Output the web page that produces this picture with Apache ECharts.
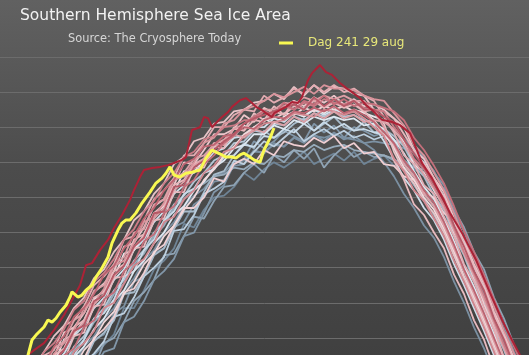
<!DOCTYPE html>
<html><head><meta charset="utf-8">
<script src="https://cdn.jsdelivr.net/npm/echarts@6/dist/echarts.min.js"></script>
<style>html,body{margin:0;padding:0;background:#404040;overflow:hidden}#c{width:529px;height:373px}</style>
</head><body><div id="c"></div>
<script>
// Day of year for the background years (sampled every 5 days)
const days = [121,126,131,136,141,146,151,156,161,166,171,176,181,186,191,196,201,206,211,216,221,226,231,236,241,246,251,256,261,266,271,276,281,286,291,296,301,306,311,316,321,326,331,336,341,346,351,356,361,366];

// Sea ice area (million km²), earlier years
const y01 = [3.0,3.5,3.7,4.35,4.5,5.0,5.5,5.8,6.1,6.85,6.85,7.35,7.95,8.2,8.55,9.25,9.15,9.65,10.0,10.05,10.3,10.7,10.5,10.8,11.0,10.85,11.05,11.3,10.95,11.1,11.25,11.05,11.3,10.95,11.1,11.2,10.9,11.05,10.8,10.65,10.2,9.85,9.1,8.5,7.85,7.25,6.45,5.9,5.1,4.5];
const y02 = [3.7,4.15,4.45,4.95,5.25,5.75,6.05,6.55,6.85,7.35,7.7,8.2,8.5,9.0,9.3,9.75,10.05,10.25,10.6,10.7,11.0,11.05,11.3,11.3,11.5,11.45,11.7,11.6,11.75,11.7,11.8,11.7,11.65,11.55,11.35,11.0,10.6,10.1,9.7,9.2,8.85,8.3,7.6,7.0,6.3,5.7,5.0,4.3,3.65,3.0];
const y03 = [2.7,3.2,3.4,4.05,4.2,4.6,5.15,5.6,5.7,6.45,6.6,7.05,7.65,7.9,8.25,8.9,9.0,9.55,10.15,10.35,10.95,11.1,11.6,11.4,11.6,11.9,11.75,11.6,12.1,11.85,12.05,11.7,12.0,11.9,11.75,11.85,11.6,11.65,11.4,11.15,10.7,10.35,9.6,9.05,8.25,7.75,6.95,6.35,5.6,5.0];
const y04 = [4.0,4.35,4.85,5.15,5.65,5.95,6.45,6.75,7.25,7.55,8.1,8.4,8.9,9.2,9.7,9.95,10.25,10.4,10.6,10.65,10.85,10.8,11.0,10.95,11.2,11.15,11.35,11.3,11.5,11.35,11.45,11.5,11.35,11.3,11.25,11.2,11.1,10.8,10.35,9.95,9.5,9.0,8.35,7.7,7.05,6.4,5.7,5.0,4.35,3.7];
const y05 = [3.4,3.9,4.05,4.75,4.9,5.3,5.9,6.15,6.5,7.25,7.3,7.75,8.35,8.55,9.1,9.6,9.6,10.15,10.65,10.75,11.2,11.55,11.4,11.9,11.7,11.85,12.1,12.25,11.9,12.1,12.3,12.0,11.9,12.15,11.85,11.95,11.75,11.45,10.9,10.6,10.05,9.65,8.9,8.35,7.6,7.05,6.25,5.65,4.9,4.3];
const y06 = [4.1,4.45,4.95,5.25,5.75,6.05,6.55,6.85,7.35,7.65,8.2,8.5,9.0,9.3,9.8,10.05,10.45,10.7,11.05,11.2,11.55,11.6,11.9,11.85,12.1,12.05,12.3,12.2,12.4,12.3,12.45,12.3,12.35,12.2,12.15,11.85,11.6,11.05,10.7,10.2,9.85,9.3,8.6,8.0,7.35,6.7,6.0,5.3,4.65,4.0];
const y07 = [3.25,3.5,4.15,4.3,4.75,5.3,5.55,5.9,6.6,6.7,7.15,7.75,8.0,8.3,9.05,9.1,9.5,10.1,10.25,10.45,11.05,10.95,11.3,11.6,11.45,11.7,11.95,11.6,11.8,11.95,11.75,11.9,11.7,11.8,11.65,11.75,11.55,11.6,11.25,11.0,10.45,10.05,9.3,8.7,8.0,7.45,6.65,6.05,5.3,4.7];
const y08 = [4.45,4.75,5.25,5.55,6.05,6.35,6.85,7.15,7.65,7.95,8.5,8.8,9.3,9.6,10.1,10.35,10.75,10.95,11.3,11.4,11.7,11.75,12.0,12.0,12.25,12.15,12.4,12.3,12.5,12.35,12.5,12.4,12.45,12.25,12.05,11.6,11.1,10.55,10.2,9.7,9.35,8.8,8.1,7.5,6.85,6.2,5.5,4.8,4.15,3.5];
const y09 = [3.85,4.15,4.65,4.95,5.45,5.75,6.25,6.55,7.05,7.35,7.9,8.2,8.7,9.0,9.5,9.75,10.2,10.45,10.85,11.05,11.4,11.5,11.8,11.8,12.05,11.95,12.2,12.1,12.3,12.2,12.3,12.2,12.25,12.05,12.1,11.95,11.65,11.25,10.75,10.3,9.95,9.4,8.75,8.05,7.45,6.8,6.1,5.4,4.75,4.1];
const y10 = [4.6,5.1,5.25,5.95,6.1,6.5,7.1,7.35,7.7,8.4,8.5,8.95,9.55,9.75,10.15,10.75,10.7,11.1,11.5,11.5,11.75,12.05,11.9,12.25,12.1,12.3,12.45,12.3,12.55,12.4,12.6,12.35,12.5,12.4,12.3,12.2,11.9,11.6,10.95,10.7,10.2,9.75,9.0,8.45,7.7,7.15,6.35,5.75,5.0,4.4];
const y11 = [3.6,4.05,4.35,4.85,5.15,5.65,5.95,6.45,6.75,7.25,7.6,8.1,8.4,8.9,9.2,9.65,10.0,10.5,10.8,11.2,11.45,11.8,12.0,12.2,12.25,12.4,12.35,12.55,12.45,12.6,12.5,12.6,12.45,12.45,12.2,11.85,11.4,10.85,10.5,10.0,9.65,9.1,8.45,7.75,7.15,6.5,5.8,5.1,4.45,3.8];
const y12 = [4.8,5.3,5.45,6.15,6.3,6.7,7.3,7.55,7.9,8.6,8.7,9.15,9.75,9.95,10.35,11.0,10.95,11.35,11.8,11.8,11.95,12.35,12.15,12.55,12.4,12.6,12.75,12.6,12.85,12.7,12.9,12.65,12.8,12.6,12.65,12.5,12.25,12.0,11.35,11.1,10.55,10.15,9.4,8.8,8.1,7.55,6.75,6.15,5.4,4.8];
const y13 = [4.35,4.6,5.25,5.35,6.05,6.15,6.9,6.95,7.7,7.75,8.55,8.6,9.35,9.4,10.15,10.15,10.85,10.85,11.45,11.4,12.0,11.9,12.4,12.2,12.6,12.35,12.75,12.5,12.85,12.55,12.8,12.6,12.75,12.45,12.15,11.75,11.05,10.5,9.8,9.5,9.0,8.55,7.8,7.25,6.5,5.95,5.15,4.55,3.8,3.2];
const y14 = [5.0,5.5,5.65,6.35,6.5,6.9,7.5,7.75,8.1,8.8,8.9,9.35,9.95,10.2,10.55,11.2,11.2,11.55,12.0,12.0,12.35,12.5,12.45,12.9,12.7,12.85,13.1,12.95,13.2,13.0,13.2,13.0,13.1,12.9,12.75,12.3,11.85,11.2,10.95,10.35,10.1,9.45,8.9,8.1,7.6,6.85,6.25,5.45,4.85,4.2];
const y15 = [4.55,4.85,5.35,5.65,6.15,6.45,6.95,7.25,7.75,8.05,8.6,8.9,9.4,9.7,10.2,10.45,10.9,11.1,11.5,11.65,11.95,12.1,12.3,12.5,12.5,12.7,12.65,12.85,12.75,12.9,12.8,12.9,12.75,12.75,12.45,12.0,11.5,10.95,10.6,10.1,9.75,9.2,8.55,7.9,7.25,6.6,5.9,5.2,4.55,3.9];
const y16 = [4.7,5.0,5.55,5.85,6.2,6.85,7.0,7.4,8.05,8.2,8.7,9.3,9.45,9.85,10.5,10.6,11.0,11.55,11.7,12.1,12.2,12.5,12.6,12.75,12.95,12.85,13.0,13.15,12.95,13.2,13.1,13.1,13.05,12.9,12.8,12.75,12.4,12.05,11.5,11.2,10.7,10.2,9.55,8.85,8.25,7.6,6.9,6.2,5.55,4.9];
const y17 = [3.95,4.2,4.8,5.0,5.6,5.85,6.2,6.85,7.0,7.55,8.05,8.25,8.7,9.3,9.45,9.95,10.2,10.7,10.9,11.3,11.4,11.75,11.9,12.1,12.15,12.2,12.4,12.35,12.3,12.5,12.45,12.35,12.45,12.25,12.0,11.75,11.1,10.75,10.2,9.9,9.4,8.9,8.2,7.6,6.95,6.3,5.6,4.9,4.25,3.6];
const y18 = [5.1,5.6,5.85,6.25,6.8,7.05,7.6,7.85,8.25,8.8,9.1,9.6,9.9,10.4,10.7,11.15,11.3,11.65,11.75,12.0,12.05,12.2,12.2,12.45,12.35,12.6,12.5,12.7,12.6,12.8,12.7,12.65,12.75,12.55,12.5,12.45,12.0,11.65,11.1,10.8,10.3,9.8,9.15,8.45,7.85,7.2,6.5,5.8,5.15,4.5];
const y19 = [4.25,4.55,4.95,5.5,5.7,6.3,6.5,7.1,7.3,7.9,8.15,8.75,8.95,9.55,9.75,10.3,10.5,10.95,11.2,11.55,11.75,12.1,12.3,12.45,12.35,12.7,12.5,12.75,12.65,12.9,12.65,12.8,12.6,12.7,12.65,12.55,12.45,12.2,11.7,11.35,10.9,10.4,9.75,9.05,8.45,7.8,7.1,6.4,5.75,5.1];
const y20 = [4.95,5.25,5.75,6.05,6.6,6.85,7.25,7.8,8.05,8.55,8.9,9.4,9.7,10.2,10.5,10.95,11.1,11.45,11.5,11.75,11.8,12.0,11.95,12.2,12.3,12.25,12.45,12.4,12.55,12.45,12.6,12.4,12.5,12.35,12.15,11.85,11.55,11.05,10.7,10.2,9.85,9.3,8.65,7.95,7.35,6.7,6.0,5.3,4.65,4.0];
const y21 = [4.5,4.9,5.35,5.65,6.2,6.35,7.05,7.2,7.8,8.05,8.6,8.85,9.55,9.6,10.3,10.35,10.85,11.05,11.35,11.6,11.8,12.1,12.25,12.35,12.45,12.55,12.65,12.5,12.85,12.6,12.8,12.6,12.75,12.5,12.5,12.3,12.15,11.65,11.25,10.85,10.4,9.95,9.2,8.6,7.9,7.35,6.55,5.95,5.2,4.6];
const y22 = [5.2,5.6,6.05,6.35,6.85,7.15,7.7,7.95,8.45,8.8,9.35,9.6,10.1,10.4,10.95,11.15,11.6,11.7,12.1,12.15,12.45,12.5,12.7,12.75,12.95,12.8,13.15,12.9,13.2,12.95,13.15,13.1,12.95,12.9,12.5,12.1,11.3,10.75,10.4,9.9,9.55,9.0,8.35,7.7,7.05,6.4,5.7,5.0,4.35,3.7];
const y23 = [2.9,3.3,3.8,4.05,4.5,5.05,5.15,5.85,6.0,6.45,7.05,7.3,7.65,8.35,8.4,8.9,9.45,9.4,9.9,10.3,10.35,10.7,10.95,10.7,11.2,11.0,11.35,11.1,11.4,10.85,11.2,11.45,11.15,11.3,11.15,11.2,11.05,11.05,10.85,10.8,10.45,10.25,9.65,9.15,8.45,7.95,7.15,6.55,5.8,5.2];
const y24 = [3.5,4.0,4.15,4.85,5.0,5.4,6.0,6.25,6.6,7.3,7.4,7.85,8.45,8.65,9.2,9.7,9.7,10.0,10.55,10.45,10.95,11.1,10.95,11.35,11.2,11.6,11.5,11.45,11.7,11.55,11.75,11.4,11.55,11.25,11.3,10.95,10.9,10.6,10.5,10.15,10.0,9.55,9.35,8.55,7.85,6.95,6.25,5.35,4.75,4.0];
const y25 = [4.6,4.95,5.5,5.7,6.3,6.5,7.15,7.3,7.9,8.1,8.8,8.95,9.55,9.8,10.35,10.5,10.95,11.1,11.55,11.6,11.95,11.9,12.2,12.15,12.45,12.35,12.6,12.5,12.75,12.55,12.7,12.55,12.65,12.45,12.5,12.45,12.25,11.8,11.35,10.95,10.55,10.0,9.35,8.65,8.05,7.4,6.7,6.0,5.35,4.7];
const y26 = [4.0,4.5,4.7,5.3,5.5,5.95,6.55,6.7,7.1,7.75,7.9,8.5,8.8,9.35,9.6,10.1,10.25,10.7,10.8,11.15,11.2,11.5,11.45,11.75,11.7,11.95,11.85,12.1,11.9,12.15,11.95,12.1,11.9,11.95,11.85,11.8,11.45,10.95,10.6,10.1,9.75,9.2,8.5,7.9,7.2,6.6,5.9,5.2,4.55,3.9];
const y27 = [4.8,5.15,5.7,5.9,6.5,6.7,7.35,7.5,8.1,8.3,9.0,9.1,9.8,9.95,10.55,10.7,11.1,11.2,11.5,11.5,11.8,11.7,11.95,11.85,12.15,12.05,12.3,12.15,12.4,12.25,12.45,12.25,12.35,12.15,12.2,12.15,11.95,11.5,11.05,10.65,10.25,9.7,9.05,8.4,7.75,7.1,6.4,5.7,5.05,4.4];
const y28 = [3.4,3.75,4.3,4.5,5.1,5.3,5.95,6.1,6.7,6.9,7.6,7.75,8.4,8.55,9.15,9.3,9.8,10.0,10.45,10.5,10.9,10.95,11.35,11.25,11.55,11.45,11.7,11.55,11.8,11.6,11.85,11.65,11.75,11.55,11.6,11.55,11.5,11.4,11.3,11.1,10.75,10.2,9.55,8.85,8.25,7.6,6.9,6.2,5.55,4.9];

// Highlighted earlier (record) year
const recDays = [116,118,121,126,131,136,140,144,147,150,154,158,161,165,169,171,174,176,180,184,188,191,195,197,200,204,206,208,210,212,215,218,220,224,227,230,232,235,237,240,241,244,247,250,253,255,258,260,264,267,270,274,277,280,284,287,290,295,300,304,309,312,315,320,324,329,335,342,349,355,360,364,368];
const recVals = [5.2,5.51,5.65,5.85,6.22,6.65,7.08,7.5,8.07,8.13,8.5,8.79,9.13,9.5,9.93,10.21,10.58,10.78,10.84,10.87,10.92,10.98,11.07,11.15,11.92,12.0,12.29,12.26,12.0,12.12,12.29,12.43,12.58,12.77,12.83,12.69,12.58,12.49,12.4,12.29,12.4,12.49,12.58,12.72,12.69,12.86,13.34,13.54,13.77,13.57,13.49,13.26,13.12,13.0,12.83,12.63,12.49,12.21,12.15,12.06,11.83,11.41,10.98,10.55,10.12,9.56,8.99,8.22,7.28,6.51,5.94,5.51,5.0];

// Current year, up to day 241
const curName = 'Dag 241 29 aug';
const curDays = [115,118,120,122,123,124,126,128,130,132,134,137,139,140,143,145,147,150,152,155,158,160,163,165,167,169,172,175,179,182,185,187,189,191,194,197,200,204,207,210,212,215,217,220,222,224,226,229,231,234,236,239,241];
const curVals = [5.1,5.51,5.94,6.08,6.14,6.16,6.31,6.51,6.45,6.56,6.73,6.93,7.16,7.31,7.16,7.22,7.36,7.5,7.73,7.99,8.3,8.7,9.07,9.27,9.36,9.36,9.56,9.84,10.15,10.41,10.55,10.69,10.87,10.64,10.58,10.69,10.72,10.78,11.12,11.35,11.29,11.21,11.15,11.15,11.12,11.21,11.26,11.15,11.07,11.0,11.35,11.69,11.98];

const bgData = [y01,y23,y03,y28,y02,y04,y05,y07,y06,y26,y08,y09,y10,y24,y11,y22,y12,y13,y25,y14,y15,y16,y17,y27,y18,y19,y20,y21];
const bgColors = ['#6f8496','#8fa3b4','#8196a8','#7d92a4','#7b90a2','#98acbc','#a7bbcb','#bccfdf','#b3c6d6','#c9dbe9','#cfdeeb','#dde7f0','#ece8ec','#f0cfd3','#f1d9dc','#e7c3c7','#edc6cb','#e8bbc0','#e9b6bb','#e3adb3','#de9fa6','#d8939b','#d2878f','#dba0a7','#cb7b86','#c46f7b','#bd6370','#b65866'];

const series = bgData.map((vals, k) => ({
  type: 'line', name: 'bg' + k, silent: true, showSymbol: false, symbol: 'none',
  data: days.map((d, i) => [d, vals[i]]),
  lineStyle: { color: bgColors[k], width: 1.8 },
  itemStyle: { color: bgColors[k] }
}));
series.push({
  type: 'line', name: 'record', silent: true, showSymbol: false, symbol: 'none',
  data: recDays.map((d, i) => [d, recVals[i]]),
  lineStyle: { color: '#ac2236', width: 2 }, itemStyle: { color: '#ac2236' }
});
series.push({
  type: 'line', name: curName, silent: true, showSymbol: false, symbol: 'none',
  data: curDays.map((d, i) => [d, curVals[i]]),
  lineStyle: { color: '#f8f852', width: 3 }, itemStyle: { color: '#f8f852' }
});

const chart = echarts.init(document.getElementById('c'), null, { renderer: 'canvas' });
chart.setOption({
  animation: false,
  backgroundColor: { type: 'linear', x: 0, y: 0, x2: 0, y2: 1, colorStops: [
    { offset: 0, color: '#616161' }, { offset: 0.15, color: '#5a5a5a' },
    { offset: 0.45, color: '#4c4c4c' }, { offset: 1, color: '#3f3f3f' }] },
  title: [
    { text: 'Southern Hemisphere Sea Ice Area', left: 15, top: 3,
      textStyle: { color: '#f2f2f2', fontSize: 15.5, fontWeight: 'normal', fontFamily: 'DejaVu Sans' } },
    { text: 'Source: The Cryosphere Today', left: 63, top: 29,
      textStyle: { color: '#d6d6d6', fontSize: 11.4, fontWeight: 'normal', fontFamily: 'DejaVu Sans' } }
  ],
  legend: {
    data: [curName], left: 274, top: 32, icon: 'rect', itemWidth: 14, itemHeight: 3,
    selectedMode: false,
    formatter: '{a|{name}}',
    textStyle: { color: '#e8e87a', fontSize: 12, fontFamily: 'DejaVu Sans',
      rich: { a: { color: '#e8e87a', fontSize: 12, fontFamily: 'DejaVu Sans', padding: [0, 0, 0, 10] } } }
  },
  grid: { left: 0, right: 0, top: 57, bottom: 0 },
  xAxis: { type: 'value', min: 104, max: 368.5, show: false, splitLine: { show: false } },
  yAxis: { type: 'value', min: 5, max: 14, interval: 1,
    axisLine: { show: false }, axisTick: { show: false }, axisLabel: { show: false },
    splitLine: { show: true, lineStyle: { color: '#6c6c6c', width: 1 } } },
  series: series
});
</script></body></html>
